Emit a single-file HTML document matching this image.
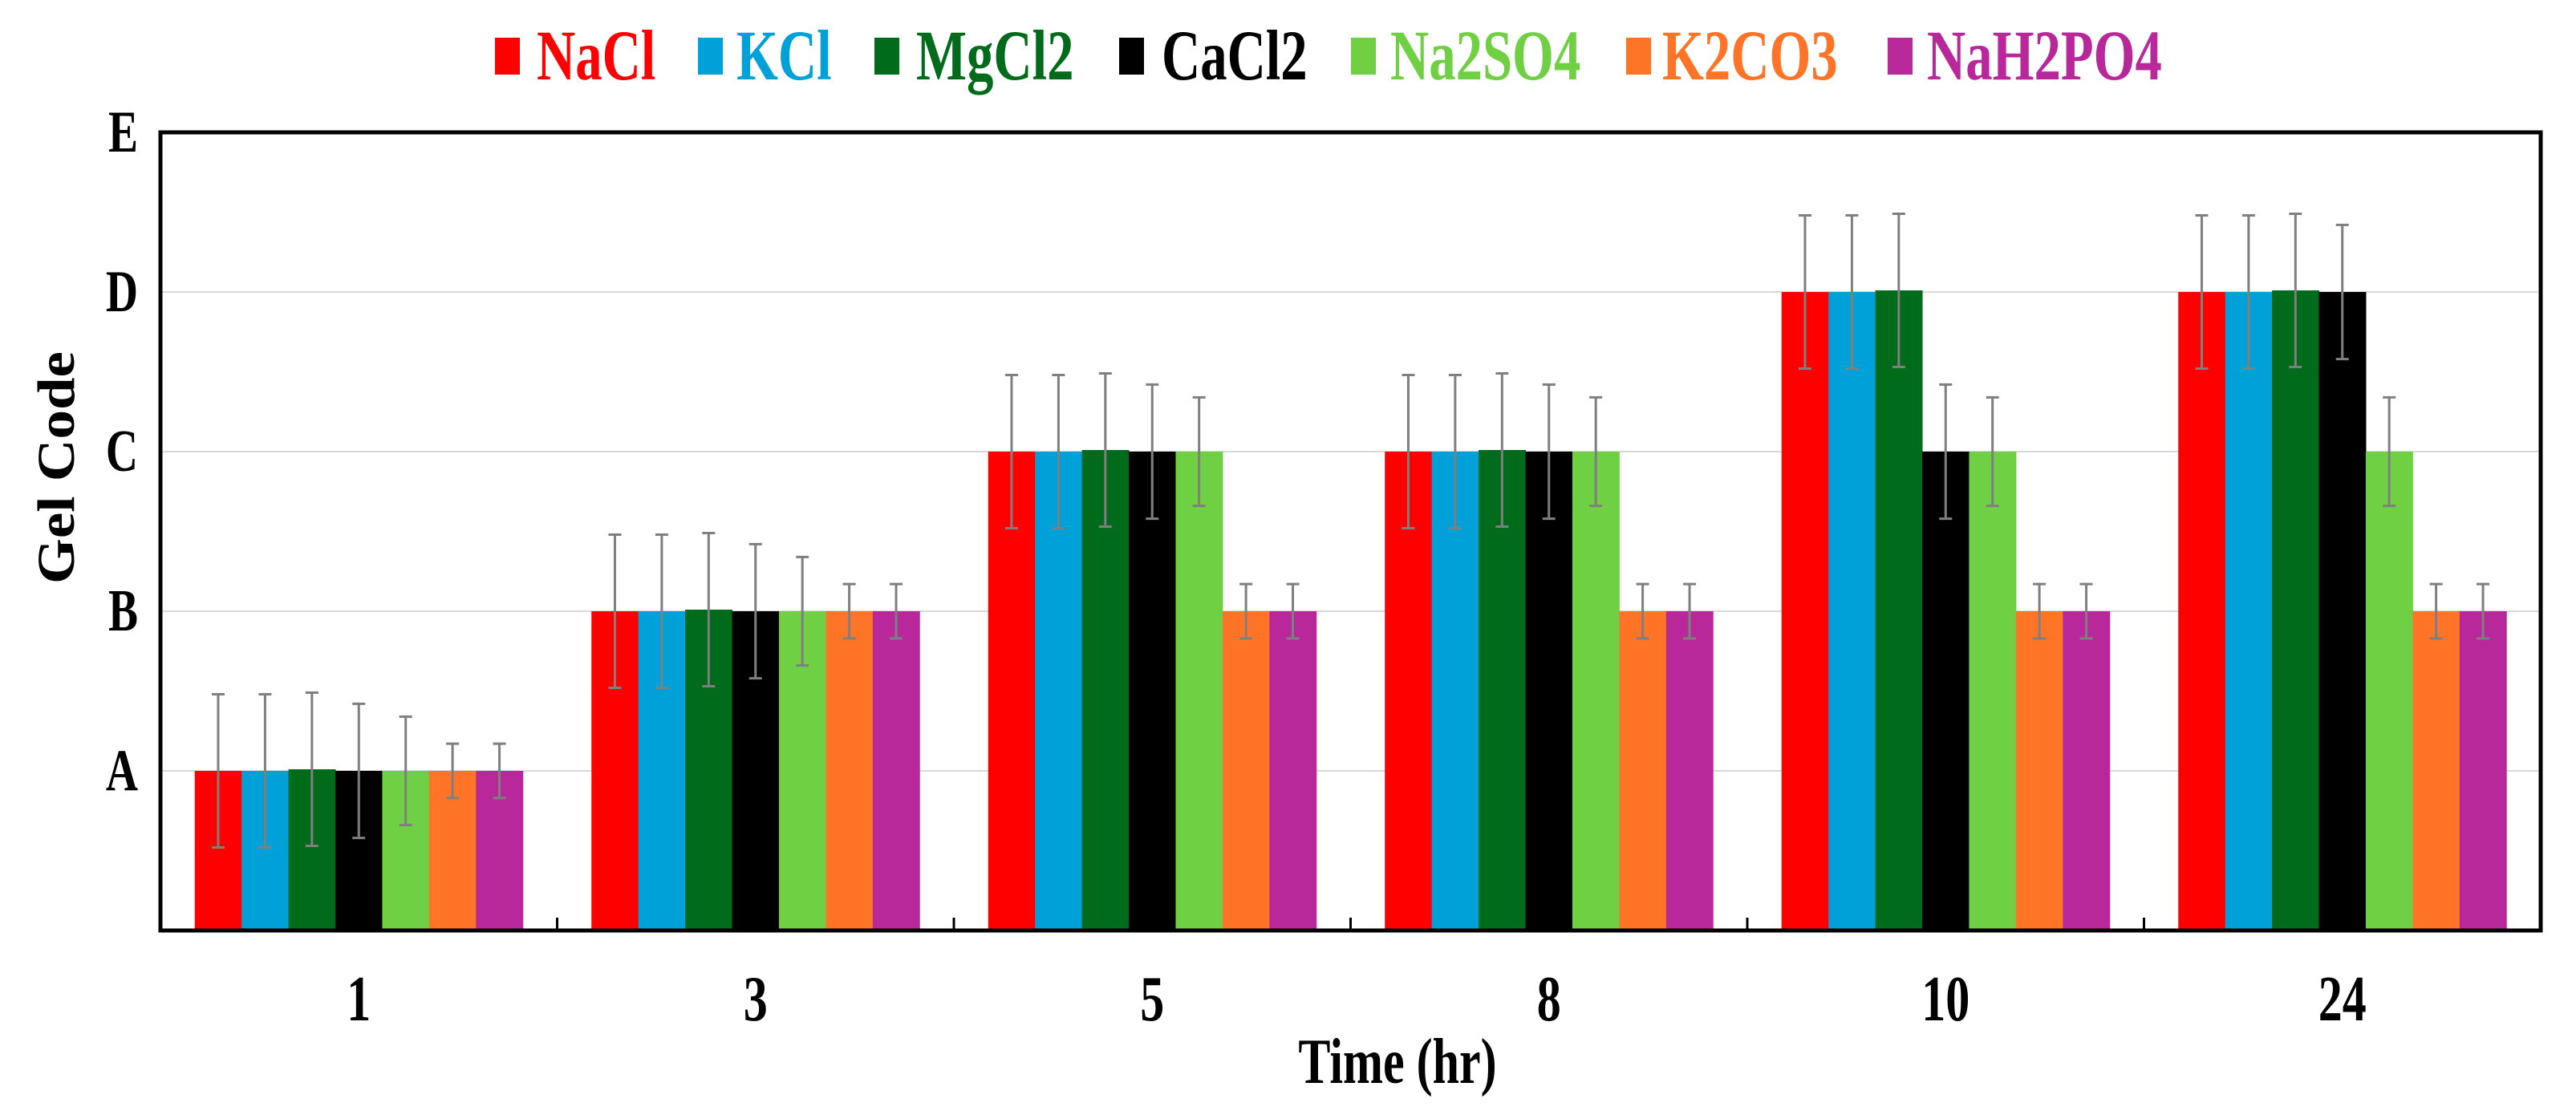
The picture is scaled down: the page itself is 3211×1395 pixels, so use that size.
<!DOCTYPE html>
<html><head><meta charset="utf-8"><style>
html,body{margin:0;padding:0;background:#fff;}
svg{display:block;}
text{font-family:"Liberation Serif",serif;font-weight:bold;}
</style></head><body>
<svg id="chart" width="3211" height="1395" viewBox="0 0 3211 1395" xmlns="http://www.w3.org/2000/svg"></svg>
<script>
const categories = ["1","3","5","8","10","24"];
const seriesNames = ["NaCl","KCl","MgCl2","CaCl2","Na2SO4","K2CO3","NaH2PO4"];
const valNaCl   = [1,2,3,3,4,4];
const valKCl    = [1,2,3,3,4,4];
const valMgCl2  = [1.01,2.01,3.01,3.01,4.01,4.01];
const valCaCl2  = [1,2,3,3,3,4];
const valNa2SO4 = [1,2,3,3,3,3];
const valK2CO3  = [1,2,2,2,2,2];
const valNaH2PO4= [1,2,2,2,2,2];
const errors    = [0.48,0.48,0.48,0.42,0.34,0.17,0.17];
const yTickLabels = ["A","B","C","D","E"];
const yTickValues = [1,2,3,4,5];

const seriesValues=[valNaCl,valKCl,valMgCl2,valCaCl2,valNa2SO4,valK2CO3,valNaH2PO4];
const colors=["#ff0000","#00a0d8","#006b1a","#000000","#70d044","#ff7426","#b8289a"];
const NS="http://www.w3.org/2000/svg";
const svg=document.getElementById('chart');
const L=200,R=3167,T=165,B=1160,yMax=5;
const catW=(R-L)/categories.length, groupW=409, barW=groupW/seriesNames.length;
function y(v){return B-(v/yMax)*(B-T);}
function xCat(i){return L+catW*(i+0.5);}
function el(tag,attrs,parent){const e=document.createElementNS(NS,tag);for(const k in attrs)e.setAttribute(k,attrs[k]);(parent||svg).appendChild(e);return e;}
function txt(s,x,yy,size,fill,anchor,name){
  const g=el('g',{transform:`translate(${x},${yy}) scale(0.75,1)`});
  const t=el('text',{x:0,y:0,'font-size':size,fill:fill,'text-anchor':anchor},g);
  t.textContent=s;
  
  
  return t;
}
yTickValues.forEach((v,i)=>{
  if(v<yMax){const g=el('line',{x1:L,x2:R,y1:y(v),y2:y(v),stroke:'#d9d9d9','stroke-width':2});
  
  }
  txt(yTickLabels[i],172,y(v)+24,74,'#000','end','y-tick-'+yTickLabels[i]);
});
seriesValues.forEach((vals,s)=>{
  vals.forEach((v,c)=>{
    const x0=xCat(c)-groupW/2+s*barW;
    const r=el('rect',{x:x0,y:y(v),width:barW+0.5,height:B-y(v),fill:colors[s]});
    
    
  });
});
seriesValues.forEach((vals,s)=>{
  vals.forEach((v,c)=>{
    const cx=xCat(c)-groupW/2+(s+0.5)*barW, e=errors[s];
    const g=el('g',{stroke:'#7f7f7f','stroke-width':3});
    
    
    el('line',{x1:cx,x2:cx,y1:y(v+e),y2:y(v-e)},g);
    el('line',{x1:cx-8,x2:cx+8,y1:y(v+e),y2:y(v+e)},g);
    el('line',{x1:cx-8,x2:cx+8,y1:y(v-e),y2:y(v-e)},g);
  });
});
const fr=el('rect',{x:L,y:T,width:R-L,height:B-T,fill:'none',stroke:'#000','stroke-width':5});


for(let i=1;i<categories.length;i++){
  const tk=el('line',{x1:L+catW*i,x2:L+catW*i,y1:B,y2:B-16,stroke:'#000','stroke-width':3});
  
  
}
categories.forEach((c,i)=>txt(c,xCat(i),1272,80,'#000','middle','x-tick-'+c));
txt('Time (hr)',1742,1350,80,'#000','middle','x-axis-title');
const gy=el('g',{transform:'translate(92,583) scale(0.9,1) rotate(-90)'});
const yt=el('text',{x:0,y:0,'font-size':73,'text-anchor':'middle',fill:'#000'},gy);
yt.textContent='Gel Code';


const legSq=[617,870,1090,1395,1684,2027,2353];
const legTx=[669,918,1142,1448,1733,2072,2402];
seriesNames.forEach((n,s)=>{
  const g=el('g',{});
  
  
  el('rect',{x:legSq[s],y:47,width:31,height:46,fill:colors[s]},g);
  const gt=el('g',{transform:`translate(${legTx[s]},99) scale(0.75,1)`},g);
  const t=el('text',{x:0,y:0,'font-size':89,fill:colors[s]},gt);
  t.textContent=n;
});
</script>
</body></html>
